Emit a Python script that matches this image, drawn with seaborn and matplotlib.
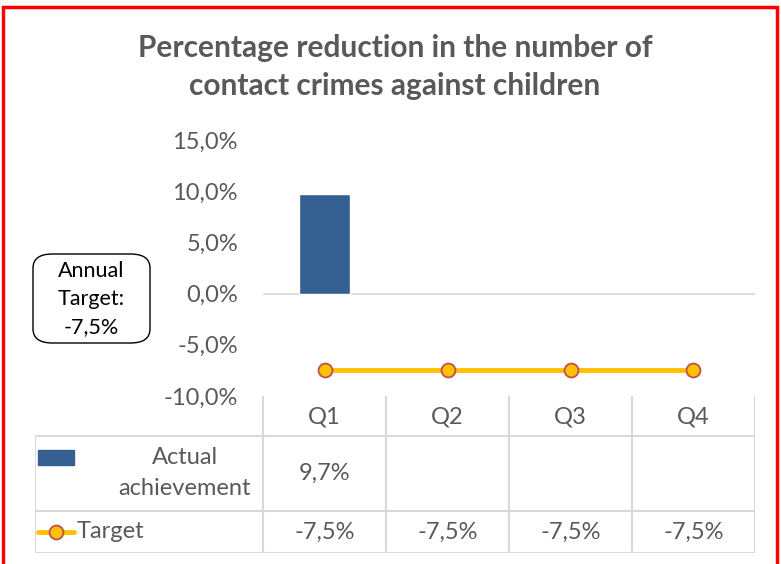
import matplotlib
matplotlib.use("Agg")
import matplotlib.pyplot as plt
import seaborn as sns
import pandas as pd
from matplotlib.patches import Rectangle, FancyBboxPatch
from matplotlib.ticker import FuncFormatter

# Chart data
quarters = ['Q1', 'Q2', 'Q3', 'Q4']
actual = [9.7, None, None, None]
target = [-7.5, -7.5, -7.5, -7.5]
annual_target = -7.5
y_ticks = [-10, -5, 0, 5, 10, 15]

title = 'Percentage reduction in the number of\ncontact crimes against children'

BLUE = '#365F91'
YELLOW = '#FFC000'
MARKER_EDGE = '#C0504D'
GREY_TXT = '#595959'
GRID = '#D9D9D9'
FS = 17

sns.set_style('white')
plt.rcParams['font.family'] = ['Lato', 'DejaVu Sans']

W, H = 781, 564
fig = plt.figure(figsize=(W / 100, H / 100), dpi=100)


def px(x0, y0, x1, y1):
    """pixel box (top-left origin) -> figure fraction rect"""
    return [x0 / W, 1 - y1 / H, (x1 - x0) / W, (y1 - y0) / H]


def pct(v):
    return f'{v:.1f}%'.replace('.', ',')


df = pd.DataFrame({'Quarter': quarters, 'Actual': actual, 'Target': target})

# main plot area
ax = fig.add_axes(px(263, 140, 755, 396))
sns.barplot(data=df.dropna(subset=['Actual']), x='Quarter', y='Actual',
            order=quarters, color=BLUE, width=0.41, saturation=1, ax=ax)
ax.plot(range(len(quarters)), df['Target'], color=YELLOW, lw=3.5,
        marker='o', markersize=10, markerfacecolor=YELLOW,
        markeredgecolor=MARKER_EDGE, markeredgewidth=1.3, zorder=4)
ax.axhline(0, color=GRID, lw=1.3, zorder=0)
ax.set_xlim(-0.5, 3.5)
ax.set_ylim(-10, 15)
ax.set_yticks(y_ticks)
ax.yaxis.set_major_formatter(FuncFormatter(lambda v, p: pct(v)))
ax.tick_params(axis='y', length=0, pad=18, labelsize=FS, labelcolor=GREY_TXT)
ax.set_xticks([])
ax.set_xlabel('')
ax.set_ylabel('')
for s in ax.spines.values():
    s.set_visible(False)

# data table under the plot
tab = fig.add_axes(px(35, 396, 755, 553))
left_w = (263 - 35) / 123.0
tab.set_xlim(-0.5 - left_w, 3.5)
tab.set_ylim(0, 157)
tab.invert_yaxis()
tab.axis('off')
lk = dict(color=GRID, lw=1.5, solid_capstyle='projecting')
x_left = -0.5 - left_w
for yy in [40, 115, 157]:
    tab.plot([x_left, 3.5], [yy, yy], **lk)
for i in range(len(quarters) + 1):
    tab.plot([i - 0.5, i - 0.5], [0, 157], **lk)
tab.plot([x_left, x_left], [40, 157], **lk)

for i, q in enumerate(quarters):
    tab.text(i, 21, q, ha='center', va='center', fontsize=FS, color=GREY_TXT)
    if actual[i] is not None:
        tab.text(i, 77, pct(actual[i]), ha='center', va='center',
                 fontsize=FS, color=GREY_TXT)
    tab.text(i, 136, pct(target[i]), ha='center', va='center',
             fontsize=FS, color=GREY_TXT)

# legend keys in the table
tab.add_patch(Rectangle((x_left + 3 / 123, 54), 36 / 123, 15, color=BLUE))
tab.text(-0.5 - (263 - 185) / 123, 77, 'Actual\nachievement', ha='center',
         va='center', fontsize=FS, color=GREY_TXT, linespacing=1.55)
kx = [x_left + 3 / 123, x_left + 39 / 123]
tab.plot(kx, [136, 136], color=YELLOW, lw=3.5)
tab.plot([sum(kx) / 2], [136], marker='o', markersize=10,
         markerfacecolor=YELLOW, markeredgecolor=MARKER_EDGE,
         markeredgewidth=1.3)
tab.text(x_left + 42 / 123, 136, 'Target', ha='left', va='center',
         fontsize=FS, color=GREY_TXT)

# title
fig.text(395 / W, 1 - 67 / H, title, ha='center', va='center',
         fontsize=21.5, fontweight='bold', color=GREY_TXT, linespacing=1.4)

# annual target box
box = FancyBboxPatch((33 / W, 1 - 343 / H), 117 / W, 89 / H,
                     boxstyle='round,pad=0,rounding_size=0.025',
                     transform=fig.transFigure, facecolor='white',
                     edgecolor='black', lw=1.0)
fig.patches.append(box)
fig.text(91 / W, 1 - 299 / H, 'Annual\nTarget:\n' + pct(annual_target),
         ha='center', va='center', fontsize=15.5, color='black',
         linespacing=1.5)

# red outer frame
fig.patches.append(Rectangle((3 / W, -0.02), (777 - 3) / W, 1.02 - 7 / H,
                             transform=fig.transFigure, fill=False,
                             edgecolor='#FF0000', lw=2.5))

fig.savefig('out.png', dpi=100)
